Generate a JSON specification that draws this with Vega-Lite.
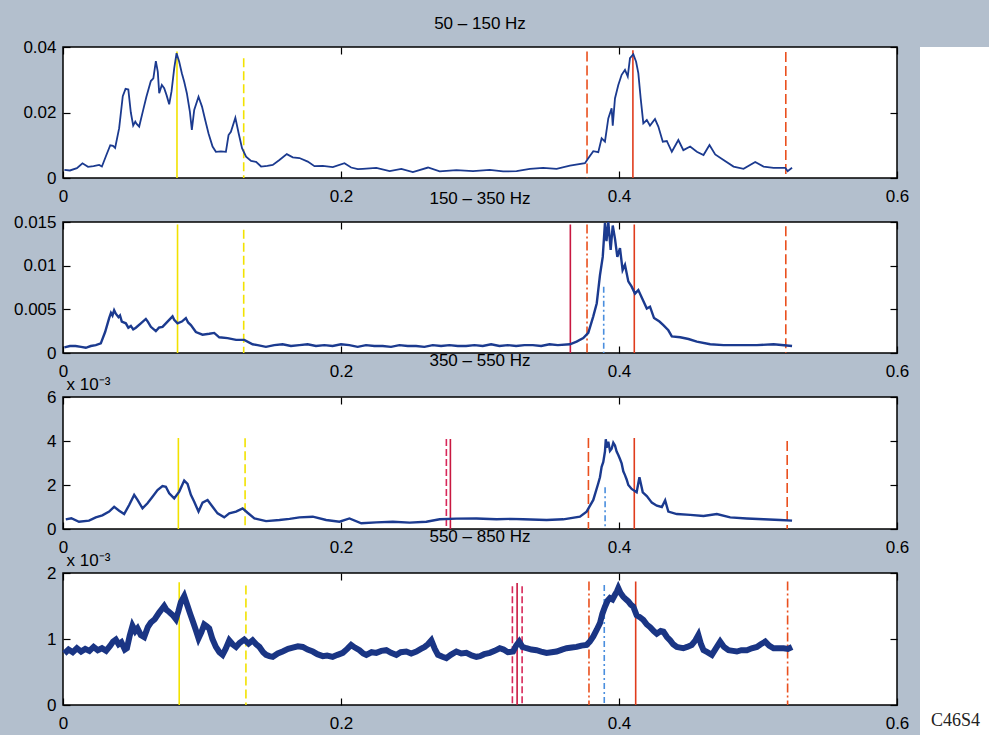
{
  "$schema": "https://vega.github.io/schema/vega-lite/v6.json",
  "background": "#b3bfcd",
  "padding": {"left": 12, "top": 14, "right": 0, "bottom": 0},
  "config": {
    "font": "Liberation Sans",
    "view": {"stroke": "black", "strokeWidth": 1.5, "fill": "white"},
    "axis": {"domain": false, "grid": false, "tickColor": "black", "tickSize": -7, "tickWidth": 1.2, "labelColor": "black", "labelFont": "Liberation Sans", "labelFontSize": 17, "labelPadding": 14, "labelFlush": false, "labelOverlap": false, "labelExpr": "format(datum.value, '.3~f')"},
    "axisBottom": {"labelPadding": 17},
    "title": {"font": "Liberation Sans", "fontSize": 17, "fontWeight": "normal", "color": "black", "offset": 5, "baseline": "alphabetic"}
  },
  "datasets": {
    "rules1": [{"t":0.082,"top":0.0386,"kind":"a"},{"t":0.130,"top":0.0366,"kind":"b"},{"t":0.377,"top":0.0386,"kind":"d"},{"t":0.410,"top":0.039,"kind":"c"},{"t":0.520,"top":0.0385,"kind":"d"}],
    "rules2": [{"t":0.0824,"top":0.0147,"kind":"a"},{"t":0.130,"top":0.0141,"kind":"b"},{"t":0.365,"top":0.0147,"kind":"g"},{"t":0.377,"top":0.0147,"kind":"e"},{"t":0.389,"top":0.0076,"kind":"h"},{"t":0.411,"top":0.0147,"kind":"c"},{"t":0.520,"top":0.0145,"kind":"d"}],
    "rules3": [{"t":0.083,"top":0.00414,"kind":"a"},{"t":0.131,"top":0.00412,"kind":"b"},{"t":0.2758,"top":0.00409,"kind":"f"},{"t":0.2787,"top":0.00409,"kind":"g"},{"t":0.378,"top":0.00414,"kind":"d"},{"t":0.390,"top":0.0019,"kind":"h"},{"t":0.411,"top":0.00414,"kind":"c"},{"t":0.521,"top":0.0040,"kind":"d"}],
    "rules4": [{"t":0.0836,"top":0.00186,"kind":"a"},{"t":0.1316,"top":0.00181,"kind":"b"},{"t":0.3233,"top":0.0018,"kind":"f"},{"t":0.3267,"top":0.00185,"kind":"g"},{"t":0.3303,"top":0.0018,"kind":"f"},{"t":0.3784,"top":0.00187,"kind":"e"},{"t":0.3894,"top":0.00182,"kind":"h"},{"t":0.412,"top":0.00187,"kind":"c"},{"t":0.5213,"top":0.00187,"kind":"e"}],
    "curve1": [
      {"t":0.001,"p":0.0025},{"t":0.005,"p":0.0023},{"t":0.010,"p":0.0030},{"t":0.014,"p":0.0045},{"t":0.018,"p":0.0034},{"t":0.022,"p":0.0036},{"t":0.026,"p":0.0040},{"t":0.028,"p":0.0035},{"t":0.031,"p":0.0068},{"t":0.034,"p":0.0100},{"t":0.036,"p":0.0098},{"t":0.0375,"p":0.0092},{"t":0.0404,"p":0.0152},{"t":0.043,"p":0.0250},{"t":0.045,"p":0.0272},{"t":0.047,"p":0.0270},{"t":0.0488,"p":0.0200},{"t":0.0505,"p":0.0160},{"t":0.052,"p":0.0172},{"t":0.053,"p":0.0165},{"t":0.0548,"p":0.0157},{"t":0.0577,"p":0.0208},{"t":0.060,"p":0.0248},{"t":0.0632,"p":0.0296},{"t":0.065,"p":0.0304},{"t":0.0668,"p":0.0357},{"t":0.0682,"p":0.0324},{"t":0.0692,"p":0.0259},{"t":0.0711,"p":0.0284},{"t":0.0728,"p":0.0274},{"t":0.0745,"p":0.0253},{"t":0.0764,"p":0.0225},{"t":0.0781,"p":0.0265},{"t":0.080,"p":0.0335},{"t":0.0817,"p":0.0381},{"t":0.0836,"p":0.0355},{"t":0.0855,"p":0.0320},{"t":0.0872,"p":0.0294},{"t":0.0891,"p":0.0259},{"t":0.0913,"p":0.0202},{"t":0.0927,"p":0.0147},{"t":0.0944,"p":0.0208},{"t":0.0975,"p":0.0248},{"t":0.100,"p":0.0218},{"t":0.1023,"p":0.0177},{"t":0.1047,"p":0.0136},{"t":0.1076,"p":0.0096},{"t":0.110,"p":0.0080},{"t":0.1136,"p":0.0081},{"t":0.1172,"p":0.0080},{"t":0.1191,"p":0.0131},{"t":0.1208,"p":0.0141},{"t":0.124,"p":0.0184},{"t":0.1264,"p":0.0136},{"t":0.1288,"p":0.0091},{"t":0.1317,"p":0.0065},{"t":0.1353,"p":0.0052},{"t":0.1389,"p":0.0049},{"t":0.1425,"p":0.0035},{"t":0.147,"p":0.0037},{"t":0.1509,"p":0.0040},{"t":0.1557,"p":0.0055},{"t":0.161,"p":0.0073},{"t":0.1653,"p":0.0063},{"t":0.1701,"p":0.0061},{"t":0.1761,"p":0.0050},{"t":0.1809,"p":0.0036},{"t":0.1869,"p":0.0037},{"t":0.1941,"p":0.0033},{"t":0.2025,"p":0.0045},{"t":0.2073,"p":0.0032},{"t":0.2121,"p":0.0027},{"t":0.2157,"p":0.0028},{"t":0.2254,"p":0.0031},{"t":0.235,"p":0.0021},{"t":0.2434,"p":0.0028},{"t":0.2517,"p":0.0018},{"t":0.2626,"p":0.0032},{"t":0.271,"p":0.0020},{"t":0.283,"p":0.0024},{"t":0.295,"p":0.0021},{"t":0.307,"p":0.0025},{"t":0.3166,"p":0.0020},{"t":0.3263,"p":0.0021},{"t":0.3359,"p":0.0028},{"t":0.3454,"p":0.0031},{"t":0.3551,"p":0.0028},{"t":0.3647,"p":0.0038},{"t":0.3755,"p":0.0045},{"t":0.3779,"p":0.0060},{"t":0.3815,"p":0.0082},{"t":0.3851,"p":0.0079},{"t":0.3875,"p":0.0121},{"t":0.3899,"p":0.0111},{"t":0.3923,"p":0.0182},{"t":0.3947,"p":0.0213},{"t":0.3955,"p":0.0160},{"t":0.3971,"p":0.0243},{"t":0.3995,"p":0.0284},{"t":0.4019,"p":0.0315},{"t":0.4043,"p":0.0330},{"t":0.4063,"p":0.0310},{"t":0.4079,"p":0.0366},{"t":0.4103,"p":0.0378},{"t":0.4123,"p":0.0355},{"t":0.4139,"p":0.0320},{"t":0.4156,"p":0.0243},{"t":0.4175,"p":0.0167},{"t":0.420,"p":0.0177},{"t":0.4223,"p":0.0160},{"t":0.4259,"p":0.0180},{"t":0.4283,"p":0.0157},{"t":0.4315,"p":0.0111},{"t":0.4344,"p":0.0113},{"t":0.438,"p":0.0080},{"t":0.4427,"p":0.0116},{"t":0.4463,"p":0.0085},{"t":0.4512,"p":0.0096},{"t":0.456,"p":0.0080},{"t":0.4608,"p":0.0070},{"t":0.4651,"p":0.0101},{"t":0.4692,"p":0.0072},{"t":0.4752,"p":0.0055},{"t":0.4824,"p":0.0035},{"t":0.4896,"p":0.0028},{"t":0.498,"p":0.0049},{"t":0.504,"p":0.0035},{"t":0.5112,"p":0.0031},{"t":0.5196,"p":0.0031},{"t":0.5213,"p":0.0021},{"t":0.5245,"p":0.0031}
    ],
    "curve2": [
      {"t":0.001,"p":0.00065},{"t":0.005,"p":0.0008},{"t":0.009,"p":0.0008},{"t":0.013,"p":0.0007},{"t":0.0164,"p":0.0006},{"t":0.020,"p":0.0008},{"t":0.0236,"p":0.0009},{"t":0.0272,"p":0.0011},{"t":0.0303,"p":0.0024},{"t":0.0332,"p":0.0040},{"t":0.0345,"p":0.0046},{"t":0.0356,"p":0.0043},{"t":0.0368,"p":0.0049},{"t":0.038,"p":0.0045},{"t":0.0399,"p":0.0041},{"t":0.041,"p":0.0043},{"t":0.0423,"p":0.0036},{"t":0.0452,"p":0.0034},{"t":0.047,"p":0.0029},{"t":0.0488,"p":0.0031},{"t":0.0505,"p":0.0027},{"t":0.0524,"p":0.0029},{"t":0.056,"p":0.0034},{"t":0.0596,"p":0.0039},{"t":0.061,"p":0.0036},{"t":0.0632,"p":0.0030},{"t":0.0668,"p":0.0025},{"t":0.069,"p":0.0029},{"t":0.0716,"p":0.0030},{"t":0.0752,"p":0.0036},{"t":0.0788,"p":0.0042},{"t":0.080,"p":0.0038},{"t":0.0824,"p":0.0034},{"t":0.0855,"p":0.0036},{"t":0.0884,"p":0.0040},{"t":0.090,"p":0.0035},{"t":0.092,"p":0.0032},{"t":0.0956,"p":0.0024},{"t":0.1004,"p":0.0021},{"t":0.1052,"p":0.0022},{"t":0.1088,"p":0.0023},{"t":0.1124,"p":0.0018},{"t":0.1184,"p":0.0017},{"t":0.1245,"p":0.0015},{"t":0.1304,"p":0.0015},{"t":0.1364,"p":0.0010},{"t":0.140,"p":0.0009},{"t":0.146,"p":0.0007},{"t":0.152,"p":0.0009},{"t":0.158,"p":0.0010},{"t":0.164,"p":0.0008},{"t":0.170,"p":0.0009},{"t":0.176,"p":0.0010},{"t":0.182,"p":0.0008},{"t":0.188,"p":0.0009},{"t":0.194,"p":0.0008},{"t":0.200,"p":0.0010},{"t":0.206,"p":0.0009},{"t":0.212,"p":0.0007},{"t":0.218,"p":0.0009},{"t":0.224,"p":0.0008},{"t":0.230,"p":0.0008},{"t":0.236,"p":0.0007},{"t":0.242,"p":0.0009},{"t":0.248,"p":0.0008},{"t":0.254,"p":0.0008},{"t":0.260,"p":0.0007},{"t":0.266,"p":0.0009},{"t":0.272,"p":0.0008},{"t":0.278,"p":0.0009},{"t":0.284,"p":0.0008},{"t":0.290,"p":0.0008},{"t":0.296,"p":0.0009},{"t":0.302,"p":0.0008},{"t":0.308,"p":0.0010},{"t":0.314,"p":0.0008},{"t":0.320,"p":0.0009},{"t":0.326,"p":0.0008},{"t":0.332,"p":0.0009},{"t":0.338,"p":0.0009},{"t":0.344,"p":0.0008},{"t":0.350,"p":0.0010},{"t":0.356,"p":0.0009},{"t":0.3647,"p":0.0010},{"t":0.3695,"p":0.0013},{"t":0.3743,"p":0.0017},{"t":0.3779,"p":0.0023},{"t":0.3815,"p":0.0042},{"t":0.384,"p":0.0057},{"t":0.3863,"p":0.0089},{"t":0.3883,"p":0.0110},{"t":0.3899,"p":0.0149},{"t":0.391,"p":0.0128},{"t":0.3923,"p":0.0150},{"t":0.394,"p":0.0118},{"t":0.3955,"p":0.0146},{"t":0.3971,"p":0.0131},{"t":0.3988,"p":0.0110},{"t":0.4007,"p":0.0120},{"t":0.4026,"p":0.0095},{"t":0.4043,"p":0.0101},{"t":0.4067,"p":0.0082},{"t":0.4091,"p":0.0076},{"t":0.4115,"p":0.0068},{"t":0.4139,"p":0.0072},{"t":0.4171,"p":0.0061},{"t":0.420,"p":0.0051},{"t":0.4223,"p":0.0053},{"t":0.4252,"p":0.0040},{"t":0.4291,"p":0.0036},{"t":0.4319,"p":0.0032},{"t":0.4355,"p":0.0026},{"t":0.438,"p":0.0019},{"t":0.444,"p":0.0018},{"t":0.450,"p":0.0016},{"t":0.456,"p":0.0013},{"t":0.4656,"p":0.0010},{"t":0.4752,"p":0.0009},{"t":0.4872,"p":0.0009},{"t":0.4992,"p":0.0009},{"t":0.5112,"p":0.0010},{"t":0.5245,"p":0.0008}
    ],
    "curve3": [
      {"t":0.002,"p":0.00044},{"t":0.006,"p":0.00049},{"t":0.0115,"p":0.00033},{"t":0.0187,"p":0.00038},{"t":0.0236,"p":0.00053},{"t":0.0283,"p":0.00062},{"t":0.0332,"p":0.00079},{"t":0.0368,"p":0.00101},{"t":0.0404,"p":0.00083},{"t":0.044,"p":0.00068},{"t":0.0476,"p":0.00109},{"t":0.0512,"p":0.00155},{"t":0.0536,"p":0.00132},{"t":0.0572,"p":0.00094},{"t":0.0608,"p":0.00117},{"t":0.0644,"p":0.00147},{"t":0.068,"p":0.00177},{"t":0.0716,"p":0.00195},{"t":0.074,"p":0.00192},{"t":0.0764,"p":0.00162},{"t":0.080,"p":0.00139},{"t":0.0836,"p":0.00170},{"t":0.0872,"p":0.00220},{"t":0.0896,"p":0.00205},{"t":0.092,"p":0.00155},{"t":0.0944,"p":0.00124},{"t":0.0975,"p":0.00079},{"t":0.1004,"p":0.00120},{"t":0.104,"p":0.00132},{"t":0.1076,"p":0.00101},{"t":0.1112,"p":0.00071},{"t":0.116,"p":0.00053},{"t":0.1196,"p":0.00071},{"t":0.1245,"p":0.00079},{"t":0.1292,"p":0.00094},{"t":0.1328,"p":0.00074},{"t":0.1377,"p":0.00048},{"t":0.1461,"p":0.00036},{"t":0.1557,"p":0.00041},{"t":0.163,"p":0.00046},{"t":0.1701,"p":0.00053},{"t":0.1797,"p":0.00056},{"t":0.1893,"p":0.00041},{"t":0.1989,"p":0.00033},{"t":0.2061,"p":0.00048},{"t":0.2146,"p":0.00026},{"t":0.2254,"p":0.00030},{"t":0.2373,"p":0.00033},{"t":0.2494,"p":0.00029},{"t":0.2614,"p":0.00033},{"t":0.271,"p":0.00044},{"t":0.283,"p":0.00047},{"t":0.2974,"p":0.00048},{"t":0.3119,"p":0.00044},{"t":0.322,"p":0.00046},{"t":0.331,"p":0.00044},{"t":0.3479,"p":0.00041},{"t":0.3599,"p":0.00044},{"t":0.3719,"p":0.00056},{"t":0.3767,"p":0.00079},{"t":0.3815,"p":0.00132},{"t":0.3851,"p":0.00208},{"t":0.3863,"p":0.00235},{"t":0.3875,"p":0.00283},{"t":0.3887,"p":0.00305},{"t":0.3899,"p":0.00352},{"t":0.3905,"p":0.00408},{"t":0.3911,"p":0.00370},{"t":0.3923,"p":0.00397},{"t":0.3935,"p":0.00355},{"t":0.3947,"p":0.00365},{"t":0.3959,"p":0.00392},{"t":0.3971,"p":0.00380},{"t":0.3983,"p":0.00352},{"t":0.3995,"p":0.00336},{"t":0.4007,"p":0.00318},{"t":0.4019,"p":0.00298},{"t":0.4031,"p":0.00262},{"t":0.4043,"p":0.00245},{"t":0.4055,"p":0.00225},{"t":0.4067,"p":0.00200},{"t":0.4091,"p":0.00182},{"t":0.4127,"p":0.00167},{"t":0.4147,"p":0.00235},{"t":0.4171,"p":0.00167},{"t":0.420,"p":0.00150},{"t":0.4236,"p":0.00120},{"t":0.4272,"p":0.00106},{"t":0.4308,"p":0.00100},{"t":0.4332,"p":0.00130},{"t":0.4355,"p":0.00079},{"t":0.4416,"p":0.00068},{"t":0.4512,"p":0.00064},{"t":0.4608,"p":0.00059},{"t":0.4704,"p":0.00068},{"t":0.480,"p":0.00053},{"t":0.492,"p":0.00048},{"t":0.504,"p":0.00044},{"t":0.516,"p":0.00041},{"t":0.5245,"p":0.00038}
    ],
    "curve4": [
      {"t":0.001,"p":0.00078},{"t":0.004,"p":0.00084},{"t":0.007,"p":0.00080},{"t":0.010,"p":0.00086},{"t":0.013,"p":0.00081},{"t":0.016,"p":0.00085},{"t":0.019,"p":0.00082},{"t":0.022,"p":0.00088},{"t":0.025,"p":0.00083},{"t":0.028,"p":0.00086},{"t":0.031,"p":0.00082},{"t":0.034,"p":0.00090},{"t":0.036,"p":0.00096},{"t":0.038,"p":0.00099},{"t":0.040,"p":0.00092},{"t":0.042,"p":0.00095},{"t":0.0445,"p":0.00084},{"t":0.046,"p":0.00086},{"t":0.048,"p":0.00105},{"t":0.050,"p":0.00120},{"t":0.052,"p":0.00112},{"t":0.0536,"p":0.00116},{"t":0.056,"p":0.00106},{"t":0.0584,"p":0.00103},{"t":0.061,"p":0.00118},{"t":0.0632,"p":0.00125},{"t":0.066,"p":0.00130},{"t":0.0692,"p":0.00140},{"t":0.071,"p":0.00145},{"t":0.0728,"p":0.00150},{"t":0.0745,"p":0.00144},{"t":0.0764,"p":0.00141},{"t":0.079,"p":0.00136},{"t":0.0812,"p":0.00130},{"t":0.083,"p":0.00142},{"t":0.0848,"p":0.00156},{"t":0.0872,"p":0.00165},{"t":0.0896,"p":0.00150},{"t":0.0915,"p":0.00138},{"t":0.0932,"p":0.00128},{"t":0.0955,"p":0.00114},{"t":0.0975,"p":0.00101},{"t":0.0995,"p":0.00110},{"t":0.1016,"p":0.00122},{"t":0.1035,"p":0.00119},{"t":0.1052,"p":0.00116},{"t":0.1075,"p":0.00100},{"t":0.110,"p":0.00088},{"t":0.1125,"p":0.00080},{"t":0.1148,"p":0.00076},{"t":0.117,"p":0.00085},{"t":0.1196,"p":0.00098},{"t":0.122,"p":0.00092},{"t":0.1245,"p":0.00088},{"t":0.127,"p":0.00094},{"t":0.1304,"p":0.00099},{"t":0.1335,"p":0.00093},{"t":0.1364,"p":0.00098},{"t":0.139,"p":0.00092},{"t":0.1413,"p":0.00088},{"t":0.144,"p":0.00080},{"t":0.1461,"p":0.00076},{"t":0.1485,"p":0.00074},{"t":0.1509,"p":0.00073},{"t":0.1545,"p":0.00078},{"t":0.158,"p":0.00081},{"t":0.162,"p":0.00085},{"t":0.1653,"p":0.00087},{"t":0.169,"p":0.00089},{"t":0.1725,"p":0.00088},{"t":0.176,"p":0.00084},{"t":0.1797,"p":0.00081},{"t":0.183,"p":0.00077},{"t":0.1869,"p":0.00074},{"t":0.190,"p":0.00075},{"t":0.194,"p":0.00073},{"t":0.1975,"p":0.00076},{"t":0.2013,"p":0.00079},{"t":0.2045,"p":0.00085},{"t":0.2073,"p":0.00091},{"t":0.210,"p":0.00087},{"t":0.2133,"p":0.00083},{"t":0.216,"p":0.00078},{"t":0.2182,"p":0.00076},{"t":0.222,"p":0.00080},{"t":0.2254,"p":0.00079},{"t":0.229,"p":0.00082},{"t":0.2326,"p":0.00083},{"t":0.236,"p":0.00079},{"t":0.2398,"p":0.00076},{"t":0.243,"p":0.00080},{"t":0.247,"p":0.00081},{"t":0.2505,"p":0.00078},{"t":0.2542,"p":0.00081},{"t":0.2575,"p":0.00085},{"t":0.2602,"p":0.00088},{"t":0.2625,"p":0.00092},{"t":0.265,"p":0.00098},{"t":0.2675,"p":0.00085},{"t":0.2698,"p":0.00076},{"t":0.273,"p":0.00073},{"t":0.2758,"p":0.00071},{"t":0.279,"p":0.00076},{"t":0.283,"p":0.00081},{"t":0.2865,"p":0.00078},{"t":0.2902,"p":0.00079},{"t":0.294,"p":0.00075},{"t":0.2974,"p":0.00073},{"t":0.300,"p":0.00074},{"t":0.303,"p":0.00077},{"t":0.307,"p":0.00079},{"t":0.3105,"p":0.00082},{"t":0.3142,"p":0.00086},{"t":0.317,"p":0.00084},{"t":0.320,"p":0.00080},{"t":0.3238,"p":0.00081},{"t":0.326,"p":0.00090},{"t":0.3282,"p":0.00096},{"t":0.3305,"p":0.00088},{"t":0.3335,"p":0.00086},{"t":0.337,"p":0.00084},{"t":0.3407,"p":0.00083},{"t":0.344,"p":0.00081},{"t":0.3479,"p":0.00079},{"t":0.3515,"p":0.00080},{"t":0.3551,"p":0.00081},{"t":0.359,"p":0.00084},{"t":0.3623,"p":0.00086},{"t":0.366,"p":0.00087},{"t":0.3695,"p":0.00088},{"t":0.373,"p":0.00090},{"t":0.3767,"p":0.00091},{"t":0.379,"p":0.00096},{"t":0.3815,"p":0.00104},{"t":0.384,"p":0.00114},{"t":0.3863,"p":0.00124},{"t":0.388,"p":0.00138},{"t":0.3899,"p":0.00149},{"t":0.3918,"p":0.00158},{"t":0.3935,"p":0.00162},{"t":0.3953,"p":0.00160},{"t":0.3971,"p":0.00167},{"t":0.3985,"p":0.00172},{"t":0.3995,"p":0.00177},{"t":0.401,"p":0.00170},{"t":0.4031,"p":0.00164},{"t":0.405,"p":0.00160},{"t":0.4067,"p":0.00157},{"t":0.4085,"p":0.00152},{"t":0.4103,"p":0.00149},{"t":0.4127,"p":0.00136},{"t":0.415,"p":0.00133},{"t":0.4175,"p":0.00129},{"t":0.420,"p":0.00122},{"t":0.4224,"p":0.00118},{"t":0.425,"p":0.00112},{"t":0.4272,"p":0.00108},{"t":0.430,"p":0.00112},{"t":0.432,"p":0.00111},{"t":0.4345,"p":0.00103},{"t":0.4368,"p":0.00098},{"t":0.439,"p":0.00092},{"t":0.4416,"p":0.00088},{"t":0.444,"p":0.00087},{"t":0.4463,"p":0.00086},{"t":0.449,"p":0.00088},{"t":0.4523,"p":0.00091},{"t":0.455,"p":0.00098},{"t":0.4571,"p":0.00106},{"t":0.459,"p":0.00092},{"t":0.4608,"p":0.00083},{"t":0.4635,"p":0.00080},{"t":0.4668,"p":0.00076},{"t":0.4695,"p":0.00085},{"t":0.4728,"p":0.00096},{"t":0.4755,"p":0.00088},{"t":0.4788,"p":0.00083},{"t":0.482,"p":0.00082},{"t":0.4848,"p":0.00081},{"t":0.488,"p":0.00083},{"t":0.492,"p":0.00083},{"t":0.4955,"p":0.00086},{"t":0.4992,"p":0.00088},{"t":0.502,"p":0.00092},{"t":0.5052,"p":0.00096},{"t":0.508,"p":0.00090},{"t":0.5112,"p":0.00086},{"t":0.515,"p":0.00086},{"t":0.5184,"p":0.00086},{"t":0.5215,"p":0.00085},{"t":0.5245,"p":0.00088}
    ],
    "label": [{"text": "C46S4"}]
  },
  "hconcat": [
    {
      "vconcat": [
        {
          "width": 834, "height": 131,
          "title": {"text": "50 – 150 Hz"},
          "layer": [
            {
              "data": {"name": "rules1"},
              "mark": {"type": "rule", "strokeWidth": 1.6},
              "encoding": {
                "x": {"field": "t", "type": "quantitative", "scale": {"domain": [0, 0.6], "nice": false}, "axis": {"orient": "bottom", "values": [0, 0.2, 0.4, 0.6], "title": null}},
                "y": {"field": "top", "type": "quantitative", "scale": {"domain": [0, 0.04], "nice": false}, "axis": {"orient": "left", "values": [0, 0.02, 0.04], "title": null}},
                "y2": {"datum": 0},
                "color": {"field": "kind", "type": "nominal", "scale": {"domain": ["a","b","c","d","e","f","g","h"], "range": ["#f2e200","#f2e200","#e03c1c","#ea501e","#ea501e","#d8285a","#c81840","#4a8ede"]}, "legend": null},
                "strokeDash": {"field": "kind", "type": "nominal", "scale": {"domain": ["a","b","c","d","e","f","g","h"], "range": [[1,0],[9,4],[1,0],[10,4],[9,3,2,3],[7,3],[1,0],[6,3,2,3]]}, "legend": null}
              }
            },
            {
              "data": {"name": "curve1"},
              "mark": {"type": "line", "color": "#1b3a8f", "strokeWidth": 1.8},
              "encoding": {
                "x": {"field": "t", "type": "quantitative", "scale": {"domain": [0, 0.6], "nice": false}, "axis": {"orient": "top", "values": [0, 0.2, 0.4, 0.6], "labels": false, "title": null}},
                "y": {"field": "p", "type": "quantitative", "scale": {"domain": [0, 0.04], "nice": false}, "axis": {"orient": "right", "values": [0, 0.02, 0.04], "labels": false, "title": null}}
              }
            }
          ],
          "resolve": {"axis": {"x": "independent", "y": "independent"}}
        },
        {
          "width": 834, "height": 131,
          "title": {"text": "150 – 350 Hz"},
          "layer": [
            {
              "data": {"name": "rules2"},
              "mark": {"type": "rule", "strokeWidth": 1.6},
              "encoding": {
                "x": {"field": "t", "type": "quantitative", "scale": {"domain": [0, 0.6], "nice": false}, "axis": {"orient": "bottom", "values": [0, 0.2, 0.4, 0.6], "title": null}},
                "y": {"field": "top", "type": "quantitative", "scale": {"domain": [0, 0.015], "nice": false}, "axis": {"orient": "left", "values": [0, 0.005, 0.01, 0.015], "title": null}},
                "y2": {"datum": 0},
                "color": {"field": "kind", "type": "nominal", "scale": {"domain": ["a","b","c","d","e","f","g","h"], "range": ["#f2e200","#f2e200","#e03c1c","#ea501e","#ea501e","#d8285a","#c81840","#4a8ede"]}, "legend": null},
                "strokeDash": {"field": "kind", "type": "nominal", "scale": {"domain": ["a","b","c","d","e","f","g","h"], "range": [[1,0],[9,4],[1,0],[10,4],[9,3,2,3],[7,3],[1,0],[6,3,2,3]]}, "legend": null}
              }
            },
            {
              "data": {"name": "curve2"},
              "mark": {"type": "line", "color": "#1b3a8f", "strokeWidth": 2.4, "clip": true},
              "encoding": {
                "x": {"field": "t", "type": "quantitative", "scale": {"domain": [0, 0.6], "nice": false}, "axis": {"orient": "top", "values": [0, 0.2, 0.4, 0.6], "labels": false, "title": null}},
                "y": {"field": "p", "type": "quantitative", "scale": {"domain": [0, 0.015], "nice": false}, "axis": {"orient": "right", "values": [0, 0.005, 0.01, 0.015], "labels": false, "title": null}}
              }
            }
          ],
          "resolve": {"axis": {"x": "independent", "y": "independent"}}
        },
        {
          "width": 834, "height": 132,
          "title": {"text": "350 – 550 Hz"},
          "layer": [
            {
              "data": {"name": "rules3"},
              "mark": {"type": "rule", "strokeWidth": 1.6},
              "encoding": {
                "x": {"field": "t", "type": "quantitative", "scale": {"domain": [0, 0.6], "nice": false}, "axis": {"orient": "bottom", "values": [0, 0.2, 0.4, 0.6], "title": null}},
                "y": {"field": "top", "type": "quantitative", "scale": {"domain": [0, 0.006], "nice": false}, "axis": {"orient": "left", "values": [0, 0.002, 0.004, 0.006], "labelExpr": "round(datum.value * 1000)", "title": "x 10⁻³", "titleAngle": 0, "titleAlign": "left", "titleBaseline": "alphabetic", "titleX": 3, "titleY": -8, "titleFont": "Liberation Sans", "titleFontSize": 17, "titleFontWeight": "normal", "titleColor": "black"}},
                "y2": {"datum": 0},
                "color": {"field": "kind", "type": "nominal", "scale": {"domain": ["a","b","c","d","e","f","g","h"], "range": ["#f2e200","#f2e200","#e03c1c","#ea501e","#ea501e","#d8285a","#c81840","#4a8ede"]}, "legend": null},
                "strokeDash": {"field": "kind", "type": "nominal", "scale": {"domain": ["a","b","c","d","e","f","g","h"], "range": [[1,0],[9,4],[1,0],[10,4],[9,3,2,3],[7,3],[1,0],[6,3,2,3]]}, "legend": null}
              }
            },
            {
              "data": {"name": "curve3"},
              "mark": {"type": "line", "color": "#1b3a8f", "strokeWidth": 2.4},
              "encoding": {
                "x": {"field": "t", "type": "quantitative", "scale": {"domain": [0, 0.6], "nice": false}, "axis": {"orient": "top", "values": [0, 0.2, 0.4, 0.6], "labels": false, "title": null}},
                "y": {"field": "p", "type": "quantitative", "scale": {"domain": [0, 0.006], "nice": false}, "axis": {"orient": "right", "values": [0, 0.002, 0.004, 0.006], "labels": false, "title": null}}
              }
            }
          ],
          "resolve": {"axis": {"x": "independent", "y": "independent"}}
        },
        {
          "width": 834, "height": 132,
          "title": {"text": "550 – 850 Hz"},
          "layer": [
            {
              "data": {"name": "rules4"},
              "mark": {"type": "rule", "strokeWidth": 1.6},
              "encoding": {
                "x": {"field": "t", "type": "quantitative", "scale": {"domain": [0, 0.6], "nice": false}, "axis": {"orient": "bottom", "values": [0, 0.2, 0.4, 0.6], "title": null}},
                "y": {"field": "top", "type": "quantitative", "scale": {"domain": [0, 0.002], "nice": false}, "axis": {"orient": "left", "values": [0, 0.001, 0.002], "labelExpr": "round(datum.value * 1000)", "title": "x 10⁻³", "titleAngle": 0, "titleAlign": "left", "titleBaseline": "alphabetic", "titleX": 3, "titleY": -8, "titleFont": "Liberation Sans", "titleFontSize": 17, "titleFontWeight": "normal", "titleColor": "black"}},
                "y2": {"datum": 0},
                "color": {"field": "kind", "type": "nominal", "scale": {"domain": ["a","b","c","d","e","f","g","h"], "range": ["#f2e200","#f2e200","#e03c1c","#ea501e","#ea501e","#d8285a","#c81840","#4a8ede"]}, "legend": null},
                "strokeDash": {"field": "kind", "type": "nominal", "scale": {"domain": ["a","b","c","d","e","f","g","h"], "range": [[1,0],[9,4],[1,0],[10,4],[9,3,2,3],[7,3],[1,0],[6,3,2,3]]}, "legend": null}
              }
            },
            {
              "data": {"name": "curve4"},
              "mark": {"type": "line", "color": "#1a3584", "strokeWidth": 6},
              "encoding": {
                "x": {"field": "t", "type": "quantitative", "scale": {"domain": [0, 0.6], "nice": false}, "axis": {"orient": "top", "values": [0, 0.2, 0.4, 0.6], "labels": false, "title": null}},
                "y": {"field": "p", "type": "quantitative", "scale": {"domain": [0, 0.002], "nice": false}, "axis": {"orient": "right", "values": [0, 0.001, 0.002], "labels": false, "title": null}}
              }
            }
          ],
          "resolve": {"axis": {"x": "independent", "y": "independent"}}
        }
      ],
      "spacing": 44,
      "bounds": "flush"
    },
    {
      "width": 71, "height": 688,
      "view": {"fill": "white", "stroke": null},
      "title": {"text": "C46S4", "orient": "bottom", "anchor": "middle", "font": "Liberation Serif", "fontSize": 18, "color": "#222222", "offset": -9, "baseline": "alphabetic"},
      "data": {"name": "label"},
      "mark": {"type": "text", "opacity": 0},
      "encoding": {"text": {"field": "text", "type": "nominal"}}
    }
  ],
  "spacing": 10
}
